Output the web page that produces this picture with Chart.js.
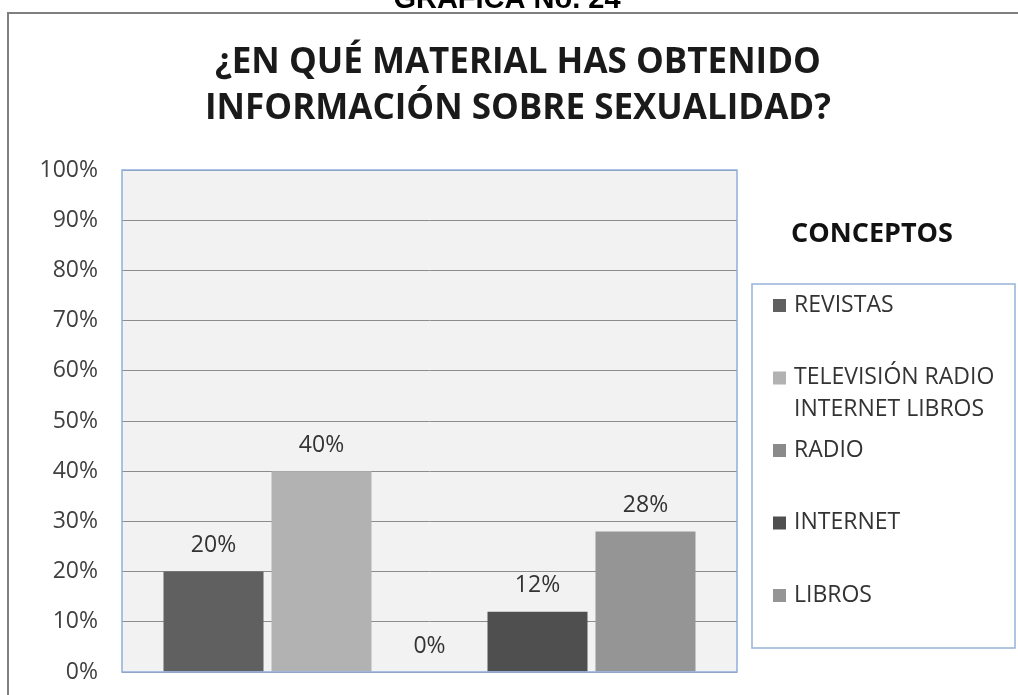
<!DOCTYPE html>
<html>
<head>
<meta charset="utf-8">
<style>
  html, body { margin: 0; padding: 0; background: #ffffff; }
  #wrap { width: 1018px; height: 695px; position: relative; overflow: hidden; }
</style>
<script src="https://cdn.jsdelivr.net/npm/chart.js@4.4.1/dist/chart.umd.min.js"></script>
</head>
<body>
<div id="wrap"><canvas id="chart" width="1018" height="695"></canvas></div>
<script>
// values
const categories = [''];
const seriesLabels = ['REVISTAS', 'TELEVISIÓN RADIO INTERNET LIBROS', 'RADIO', 'INTERNET', 'LIBROS'];
const seriesValues = [20, 40, 0, 12, 28];
const seriesColors = ['#606060', '#b2b2b2', '#8a8a8a', '#4f4f4f', '#959595'];
const yTickValues = [0, 10, 20, 30, 40, 50, 60, 70, 80, 90, 100];

const pageHeading = 'GRAFICA No. 24';
const titleLines = ['¿EN QUÉ MATERIAL HAS OBTENIDO', 'INFORMACIÓN SOBRE SEXUALIDAD?'];
const legendTitle = 'CONCEPTOS';

const FONT = "'Open Sans', 'Noto Sans', sans-serif";

const datasets = seriesLabels.map((label, i) => ({
    label,
    data: [seriesValues[i]],
    backgroundColor: seriesColors[i],
    borderWidth: 0,
}));

// frame, headings, plot background
const decorations = {
    id: 'decorations',
    beforeDraw(chart) {
        const { ctx, chartArea: a } = chart;
        ctx.save();
        ctx.fillStyle = '#ffffff';
        ctx.fillRect(0, 0, chart.width, chart.height);

        // outer frame of the pasted chart
        ctx.strokeStyle = '#7f7f7f';
        ctx.lineWidth = 2;
        ctx.strokeRect(8, 13, 1040, 720);

        ctx.fillStyle = '#000000';
        ctx.font = "bold 29px 'Liberation Sans', Arial, sans-serif";
        ctx.textAlign = 'center';
        ctx.textBaseline = 'alphabetic';
        ctx.fillText(pageHeading, 507, 8);

        ctx.fillStyle = '#1a1a1a';
        ctx.font = 'bold 35px ' + FONT;
        ctx.textBaseline = 'middle';
        titleLines.forEach((line, i) => ctx.fillText(line, 518, 63 + i * 46));

        ctx.fillStyle = '#f2f2f2';
        ctx.fillRect(a.left, a.top, a.right - a.left, a.bottom - a.top);
        ctx.restore();
    },
    afterDraw(chart) {
        const { ctx, chartArea: a } = chart;
        ctx.save();
        ctx.strokeStyle = '#8eaedb';
        ctx.lineWidth = 1.5;
        ctx.strokeRect(a.left, a.top, a.right - a.left, a.bottom - a.top);
        ctx.restore();
    },
};

// value labels above the bars
const valueLabels = {
    id: 'valueLabels',
    afterDatasetsDraw(chart) {
        const { ctx } = chart;
        ctx.save();
        ctx.fillStyle = '#333333';
        ctx.font = '23px ' + FONT;
        ctx.textAlign = 'center';
        ctx.textBaseline = 'middle';
        chart.data.datasets.forEach((ds, i) => {
            chart.getDatasetMeta(i).data.forEach((bar, j) => {
                ctx.fillText(ds.data[j] + '%', bar.x, bar.y - 26);
            });
        });
        ctx.restore();
    },
};

function wrapText(ctx, text, maxWidth) {
    const words = text.split(' ');
    const lines = [];
    let line = '';
    words.forEach((w) => {
        const test = line ? line + ' ' + w : w;
        if (line && ctx.measureText(test).width > maxWidth) {
            lines.push(line);
            line = w;
        } else {
            line = test;
        }
    });
    lines.push(line);
    return lines;
}

// legend box on the right, built from the datasets
const sideLegend = {
    id: 'sideLegend',
    afterDraw(chart) {
        const { ctx } = chart;
        const box = { x: 752, y: 284, w: 263, h: 364 };
        ctx.save();
        ctx.fillStyle = '#111111';
        ctx.font = 'bold 27px ' + FONT;
        ctx.textAlign = 'center';
        ctx.textBaseline = 'middle';
        ctx.fillText(legendTitle, 872, 234);

        ctx.strokeStyle = '#95b3d7';
        ctx.lineWidth = 1.5;
        ctx.strokeRect(box.x, box.y, box.w, box.h);

        ctx.font = '23px ' + FONT;
        ctx.textAlign = 'left';
        chart.data.datasets.forEach((ds, i) => {
            const y = 305 + i * 72.5;
            ctx.fillStyle = ds.backgroundColor;
            ctx.fillRect(773, y - 6, 13, 13);
            ctx.fillStyle = '#333333';
            wrapText(ctx, ds.label, 212).forEach((line, k) => {
                ctx.fillText(line, 794, y + k * 32);
            });
        });
        ctx.restore();
    },
};

new Chart(document.getElementById('chart'), {
    type: 'bar',
    data: { labels: categories, datasets },
    plugins: [decorations, valueLabels, sideLegend],
    options: {
        responsive: false,
        animation: false,
        devicePixelRatio: 1,
        layout: { padding: { top: 170, right: 281, bottom: 23, left: 0 } },
        datasets: {
            bar: { categoryPercentage: 0.878, barPercentage: 0.926 },
        },
        plugins: {
            legend: { display: false },
            title: { display: false },
            tooltip: { enabled: false },
        },
        scales: {
            x: { display: false },
            y: {
                min: 0,
                max: 100,
                afterFit(scale) {
                    scale.width = 122;
                    scale.paddingTop = 0;
                    scale.paddingBottom = 0;
                },
                afterBuildTicks(scale) {
                    scale.ticks = yTickValues.map((v) => ({ value: v }));
                },
                ticks: {
                    padding: 24,
                    color: '#404040',
                    font: { family: FONT, size: 23 },
                    callback: (v) => v + '%',
                },
                grid: { color: '#8c8c8c', lineWidth: 1, drawTicks: false },
                border: { display: false },
            },
        },
    },
});
</script>
</body>
</html>
